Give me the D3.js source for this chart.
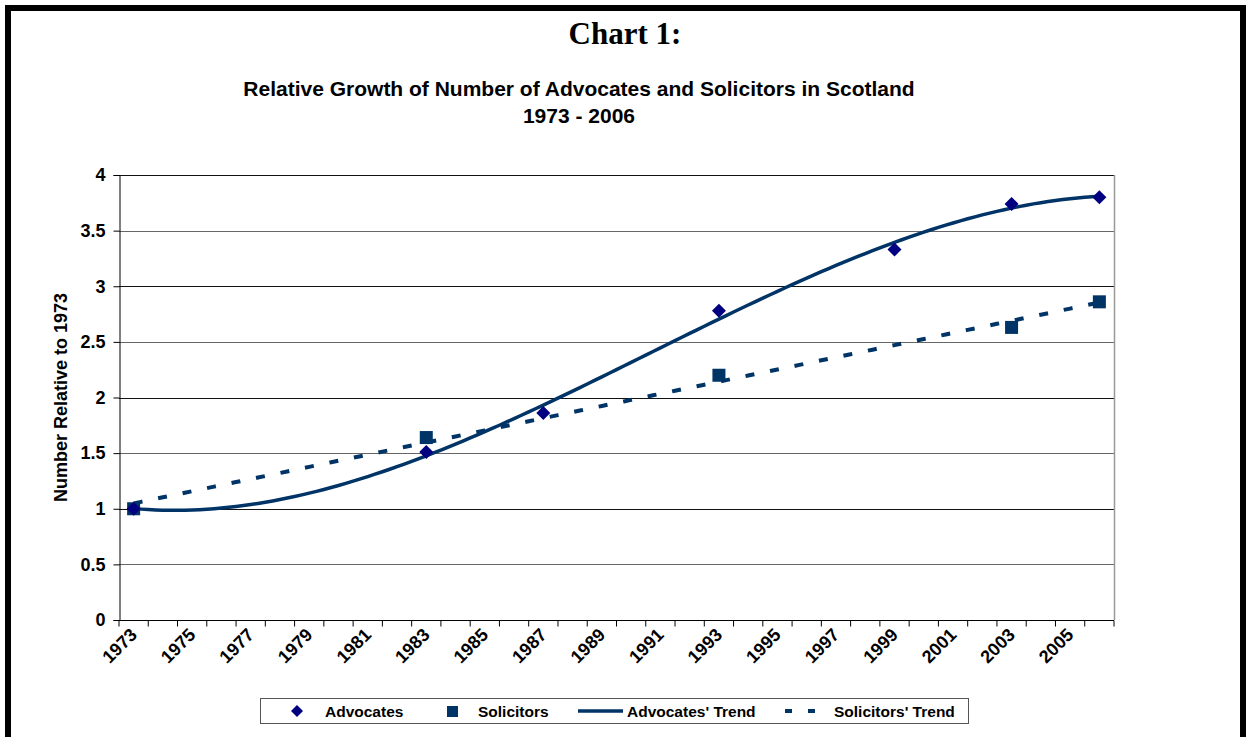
<!DOCTYPE html>
<html>
<head>
<meta charset="utf-8">
<script src="https://cdn.jsdelivr.net/npm/d3@7"></script>
<style>
  body { margin: 0; background: #fff; }
  svg text { font-family: Arial, "Liberation Sans", sans-serif; font-weight: bold; }
</style>
</head>
<body>
<svg id="chart" width="1247" height="737"></svg>
<script>
"use strict";

// data
const years = d3.range(1973, 2007);
const tickYears = d3.range(1973, 2006, 2);
const yTicks = [0, 0.5, 1, 1.5, 2, 2.5, 3, 3.5, 4];

const advYears = [1973, 1983, 1987, 1993, 1999, 2003, 2006];
const advValues = [1.0, 1.51, 1.86, 2.78, 3.33, 3.74, 3.80];
const solYears = [1973, 1983, 1993, 2003, 2006];
const solValues = [1.0, 1.64, 2.2, 2.63, 2.86];

const svg = d3.select("#chart");
const navy = "#000080";
const blue = "#003366";

// frame
svg.append("path")
  .attr("d", "M8,737 L8,8 L1243,8 L1243,737")
  .attr("fill", "none")
  .attr("stroke", "#000")
  .attr("stroke-width", 6);

svg.append("text")
  .attr("x", 625).attr("y", 44)
  .attr("text-anchor", "middle")
  .style("font-family", "'Liberation Serif', 'Times New Roman', serif")
  .style("font-size", "31px")
  .text("Chart 1:");

const sub = svg.append("text")
  .attr("text-anchor", "middle")
  .style("font-size", "21px");
sub.append("tspan").attr("x", 579).attr("y", 96)
  .text("Relative Growth of Number of Advocates and Solicitors in Scotland");
sub.append("tspan").attr("x", 579).attr("y", 123).text("1973 - 2006");

// plot area
const pLeft = 119, pRight = 1114, pTop = 175, pBottom = 620;
const x = d3.scaleLinear().domain([years[0] - 0.5, years[years.length - 1] + 0.5]).range([pLeft, pRight]);
const y = d3.scaleLinear().domain([0, 4]).range([pBottom, pTop]);

const g = svg.append("g");

g.selectAll("line.grid")
  .data(yTicks.filter((d) => d > 0))
  .enter()
  .append("line")
  .attr("class", "grid")
  .attr("x1", pLeft).attr("x2", pRight)
  .attr("y1", (d) => Math.round(y(d)) + 0.5)
  .attr("y2", (d) => Math.round(y(d)) + 0.5)
  .attr("stroke", (d, i) => (i % 2 ? "#111" : "#666"))
  .attr("stroke-width", 1);

// right border of plot area
g.append("line")
  .attr("x1", pRight + 0.5).attr("x2", pRight + 0.5)
  .attr("y1", pTop).attr("y2", pBottom)
  .attr("stroke", "#999").attr("stroke-width", 1.5);

// y axis
const yAxis = d3.axisLeft(y).tickValues(yTicks).tickSize(6).tickPadding(8)
  .tickFormat((d) => d3.format("")(d));
const yg = g.append("g")
  .attr("transform", `translate(${pLeft + 0.5},0)`)
  .call(yAxis);
yg.select(".domain").attr("stroke", "#000");
yg.selectAll(".tick line").attr("stroke", "#000");
yg.selectAll(".tick text")
  .style("font-size", "18px")
  .style("font-family", "Arial, 'Liberation Sans', sans-serif")
  .style("font-weight", "bold")
  .attr("fill", "#000");

svg.append("text")
  .attr("transform", `translate(67,${(pTop + pBottom) / 2}) rotate(-90)`)
  .attr("text-anchor", "middle")
  .style("font-size", "18px")
  .text("Number Relative to 1973");

// x axis: ticks between categories, labels at category centres
const xg = g.append("g").attr("transform", `translate(0,${pBottom + 0.5})`);
xg.append("line")
  .attr("x1", pLeft).attr("x2", pRight)
  .attr("stroke", "#000").attr("stroke-width", 1);
xg.selectAll("line.tick")
  .data(d3.range(years[0] - 0.5, years[years.length - 1] + 1, 1))
  .enter()
  .append("line")
  .attr("class", "tick")
  .attr("x1", (d) => x(d)).attr("x2", (d) => x(d))
  .attr("y1", 0).attr("y2", 6)
  .attr("stroke", "#000");
xg.selectAll("text")
  .data(tickYears)
  .enter()
  .append("text")
  .attr("transform", (d) => `translate(${x(d)},${11}) rotate(-45)`)
  .attr("text-anchor", "end")
  .attr("dy", "0.35em")
  .style("font-size", "18px")
  .text((d) => d);

// least squares polynomial fit (Excel style trendlines)
function polyFit(xs, ys, order) {
  const n = order + 1;
  const A = [];
  for (let r = 0; r < n; r++) {
    A.push([]);
    for (let c = 0; c < n; c++) A[r].push(d3.sum(xs, (v) => Math.pow(v, r + c)));
    A[r].push(d3.sum(xs, (v, i) => Math.pow(v, r) * ys[i]));
  }
  for (let i = 0; i < n; i++) {
    let p = i;
    for (let k = i + 1; k < n; k++) if (Math.abs(A[k][i]) > Math.abs(A[p][i])) p = k;
    [A[i], A[p]] = [A[p], A[i]];
    for (let k = i + 1; k < n; k++) {
      const f = A[k][i] / A[i][i];
      for (let j = i; j <= n; j++) A[k][j] -= f * A[i][j];
    }
  }
  const coef = new Array(n).fill(0);
  for (let i = n - 1; i >= 0; i--) {
    let s = A[i][n];
    for (let j = i + 1; j < n; j++) s -= A[i][j] * coef[j];
    coef[i] = s / A[i][i];
  }
  return (t) => coef.reduce((acc, c, i) => acc + c * Math.pow(t, i), 0);
}

const t0 = years[0];
const advFit = polyFit(advYears.map((d) => d - t0), advValues, 3);
const solFit = polyFit(solYears.map((d) => d - t0), solValues, 1);
const span = d3.range(years[0], years[years.length - 1] + 0.01, 0.25);

const line = d3.line().x((d) => x(d[0])).y((d) => y(d[1]));

g.append("path")
  .datum(span.map((d) => [d, solFit(d - t0)]))
  .attr("d", line)
  .attr("fill", "none")
  .attr("stroke", blue)
  .attr("stroke-width", 4)
  .attr("stroke-dasharray", "9,16");

g.append("path")
  .datum(span.map((d) => [d, advFit(d - t0)]))
  .attr("d", line)
  .attr("fill", "none")
  .attr("stroke", blue)
  .attr("stroke-width", 3.5);

// markers
const sq = 13, dm = 7;
g.selectAll("rect.sol")
  .data(solYears.map((d, i) => [d, solValues[i]]))
  .enter()
  .append("rect")
  .attr("class", "sol")
  .attr("x", (d) => x(d[0]) - sq / 2)
  .attr("y", (d) => y(d[1]) - sq / 2)
  .attr("width", sq).attr("height", sq)
  .attr("fill", blue);

g.selectAll("path.adv")
  .data(advYears.map((d, i) => [d, advValues[i]]))
  .enter()
  .append("path")
  .attr("class", "adv")
  .attr("transform", (d) => `translate(${x(d[0])},${y(d[1])})`)
  .attr("d", `M0,${-dm} L${dm},0 L0,${dm} L${-dm},0 Z`)
  .attr("fill", navy);

// legend
const lg = svg.append("g").attr("transform", "translate(260,698)");
lg.append("rect")
  .attr("x", 0.5).attr("y", 0.5)
  .attr("width", 708).attr("height", 25)
  .attr("fill", "#fff").attr("stroke", "#555").attr("stroke-width", 1);
const legendItems = [
  { name: "Advocates", kind: "diamond", sx: 37, tx: 65 },
  { name: "Solicitors", kind: "square", sx: 192, tx: 218 },
  { name: "Advocates' Trend", kind: "solid", sx: 318, tx: 367 },
  { name: "Solicitors' Trend", kind: "dashed", sx: 523, tx: 574 },
];
legendItems.forEach((it) => {
  if (it.kind === "diamond") {
    lg.append("path")
      .attr("transform", `translate(${it.sx},13)`)
      .attr("d", "M0,-6 L6,0 L0,6 L-6,0 Z")
      .attr("fill", navy);
  } else if (it.kind === "square") {
    lg.append("rect")
      .attr("x", it.sx - 5).attr("y", 8)
      .attr("width", 11).attr("height", 11)
      .attr("fill", blue);
  } else {
    lg.append("line")
      .attr("x1", it.sx).attr("x2", it.sx + 45)
      .attr("y1", 13).attr("y2", 13)
      .attr("stroke", blue)
      .attr("stroke-width", it.kind === "solid" ? 3.5 : 4)
      .attr("stroke-dasharray", it.kind === "dashed" ? "7,16" : null)
      .attr("stroke-dashoffset", it.kind === "dashed" ? -2 : null);
  }
  lg.append("text")
    .attr("x", it.tx).attr("y", 18.5)
    .style("font-size", "15.5px")
    .text(it.name);
});
</script>
</body>
</html>
